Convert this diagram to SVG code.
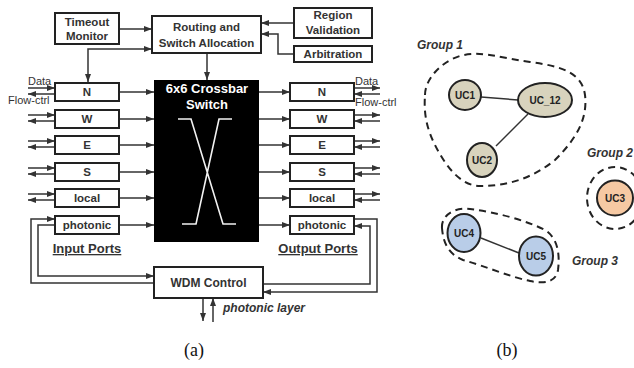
<svg xmlns="http://www.w3.org/2000/svg" width="634" height="368" viewBox="0 0 634 368">
<style>
.box{fill:#fff;stroke:#222;stroke-width:2}
.lbl{font-family:"Liberation Sans",Arial,sans-serif;font-weight:bold;font-size:11.5px;fill:#333;text-anchor:middle}
.sm{font-family:"Liberation Sans",Arial,sans-serif;font-size:11px;fill:#333}
.ln{fill:none;stroke:#333;stroke-width:1.5}
.grp{fill:none;stroke:#222;stroke-width:2;stroke-dasharray:7 5}
.uc{stroke:#222;stroke-width:2}
.uct{font-family:"Liberation Sans",Arial,sans-serif;font-weight:bold;font-size:10px;fill:#222;text-anchor:middle}
.gt{font-family:"Liberation Sans",Arial,sans-serif;font-weight:bold;font-style:italic;font-size:12px;fill:#333}
.cap{font-family:"Liberation Serif","Times New Roman",serif;font-size:18px;fill:#111;text-anchor:middle}
</style>
<defs>
<marker id="a" markerUnits="userSpaceOnUse" markerWidth="8" markerHeight="6" refX="8" refY="3" orient="auto-start-reverse"><path d="M0,0 L8,3 L0,6 z" fill="#333"/></marker>
</defs>
<g id="connectors">
<path class="ln" d="M119,29 H152" marker-end="url(#a)"/>
<path class="ln" d="M88,82 V49 H152" marker-start="url(#a)" marker-end="url(#a)"/>
<path class="ln" d="M294,23 H261" marker-end="url(#a)"/>
<path class="ln" d="M294,54 H278 V34 H261" marker-end="url(#a)"/>
<path class="ln" d="M207,53 V80" marker-end="url(#a)"/>
<path class="ln" d="M119,92 H154" marker-end="url(#a)"/>
<path class="ln" d="M119,119 H154" marker-end="url(#a)"/>
<path class="ln" d="M119,145 H154" marker-end="url(#a)"/>
<path class="ln" d="M119,172 H154" marker-end="url(#a)"/>
<path class="ln" d="M119,198 H154" marker-end="url(#a)"/>
<path class="ln" d="M119,225 H154" marker-end="url(#a)"/>
<path class="ln" d="M259,92 H290" marker-end="url(#a)"/>
<path class="ln" d="M259,119 H290" marker-end="url(#a)"/>
<path class="ln" d="M259,145 H290" marker-end="url(#a)"/>
<path class="ln" d="M259,172 H290" marker-end="url(#a)"/>
<path class="ln" d="M259,198 H290" marker-end="url(#a)"/>
<path class="ln" d="M259,225 H290" marker-end="url(#a)"/>
<path class="ln" d="M28,88 H55" marker-end="url(#a)"/>
<path class="ln" d="M55,94 H28" marker-end="url(#a)"/>
<path class="ln" d="M28,115 H55" marker-end="url(#a)"/>
<path class="ln" d="M55,121 H28" marker-end="url(#a)"/>
<path class="ln" d="M28,141 H55" marker-end="url(#a)"/>
<path class="ln" d="M55,147 H28" marker-end="url(#a)"/>
<path class="ln" d="M28,168 H55" marker-end="url(#a)"/>
<path class="ln" d="M55,174 H28" marker-end="url(#a)"/>
<path class="ln" d="M28,194 H55" marker-end="url(#a)"/>
<path class="ln" d="M55,200 H28" marker-end="url(#a)"/>
<path class="ln" d="M354,88 H380" marker-end="url(#a)"/>
<path class="ln" d="M380,94 H354" marker-end="url(#a)"/>
<path class="ln" d="M354,115 H380" marker-end="url(#a)"/>
<path class="ln" d="M380,121 H354" marker-end="url(#a)"/>
<path class="ln" d="M354,141 H380" marker-end="url(#a)"/>
<path class="ln" d="M380,147 H354" marker-end="url(#a)"/>
<path class="ln" d="M354,168 H380" marker-end="url(#a)"/>
<path class="ln" d="M380,174 H354" marker-end="url(#a)"/>
<path class="ln" d="M354,194 H380" marker-end="url(#a)"/>
<path class="ln" d="M380,200 H354" marker-end="url(#a)"/>
<path class="ln" d="M154,283 H31 V219 H55" marker-end="url(#a)"/>
<path class="ln" d="M55,225 H38 V276 H154" marker-end="url(#a)"/>
<path class="ln" d="M354,219 H377 V292 H263" marker-end="url(#a)"/>
<path class="ln" d="M263,284 H370 V226 H354" marker-end="url(#a)"/>
<path class="ln" d="M203,298 V321" marker-end="url(#a)"/>
<path class="ln" d="M213,322 V298" marker-end="url(#a)"/>
<path class="ln" d="M481,97 L518,100"/>
<path class="ln" d="M496,146 L528,114"/>
<path class="ln" d="M481,238 L519,253"/>
</g>
<g id="timeout"><rect class="box" x="55" y="13" width="64" height="31"/><text class="lbl" x="87" y="26">Timeout</text><text class="lbl" x="87" y="40">Monitor</text></g>
<g id="routing"><rect class="box" x="152" y="16" width="109" height="37"/><text class="lbl" x="206.5" y="31">Routing and</text><text class="lbl" x="206.5" y="47">Switch Allocation</text></g>
<g id="region"><rect class="box" x="294" y="8" width="78" height="30"/><text class="lbl" x="333" y="19">Region</text><text class="lbl" x="333" y="34">Validation</text></g>
<g id="arbitration"><rect class="box" x="294" y="46" width="78" height="16"/><text class="lbl" x="333" y="58">Arbitration</text></g>
<g id="crossbar"><rect x="154" y="80" width="105" height="162" fill="#000"/>
<text class="lbl" x="207" y="93" style="fill:#fff;font-size:13px">6x6 Crossbar</text>
<text class="lbl" x="207" y="109" style="fill:#fff;font-size:13px">Switch</text>
<path d="M178,119 H191 L223,224 H236 M232,119 H219 L196,224 H182" fill="none" stroke="#f2f2f2" stroke-width="1.6"/></g>
<g id="in-N"><rect class="box" x="55" y="83" width="64" height="18"/><text class="lbl" x="87" y="96">N</text></g>
<g id="in-W"><rect class="box" x="55" y="110" width="64" height="18"/><text class="lbl" x="87" y="123">W</text></g>
<g id="in-E"><rect class="box" x="55" y="136" width="64" height="18"/><text class="lbl" x="87" y="149">E</text></g>
<g id="in-S"><rect class="box" x="55" y="163" width="64" height="18"/><text class="lbl" x="87" y="176">S</text></g>
<g id="in-local"><rect class="box" x="55" y="189" width="64" height="18"/><text class="lbl" x="87" y="202">local</text></g>
<g id="in-photonic"><rect class="box" x="55" y="216" width="64" height="18"/><text class="lbl" x="87" y="229">photonic</text></g>
<g id="out-N"><rect class="box" x="290" y="83" width="64" height="18"/><text class="lbl" x="322" y="96">N</text></g>
<g id="out-W"><rect class="box" x="290" y="110" width="64" height="18"/><text class="lbl" x="322" y="123">W</text></g>
<g id="out-E"><rect class="box" x="290" y="136" width="64" height="18"/><text class="lbl" x="322" y="149">E</text></g>
<g id="out-S"><rect class="box" x="290" y="163" width="64" height="18"/><text class="lbl" x="322" y="176">S</text></g>
<g id="out-local"><rect class="box" x="290" y="189" width="64" height="18"/><text class="lbl" x="322" y="202">local</text></g>
<g id="out-photonic"><rect class="box" x="290" y="216" width="64" height="18"/><text class="lbl" x="322" y="229">photonic</text></g>
<g id="wdm"><rect class="box" x="154" y="267" width="109" height="31"/><text class="lbl" x="208.5" y="287" style="font-size:12px">WDM Control</text></g>
<g id="labels">
<text class="sm" x="28" y="85">Data</text>
<text class="sm" x="8" y="104">Flow-ctrl</text>
<text class="sm" x="355" y="85">Data</text>
<text class="sm" x="355" y="106">Flow-ctrl</text>
<text class="lbl" x="87" y="253" style="font-size:13px;text-decoration:underline">Input Ports</text>
<text class="lbl" x="318" y="253" style="font-size:13px;text-decoration:underline">Output Ports</text>
<text class="lbl" x="223" y="312" style="font-size:12px;font-style:italic;text-anchor:start">photonic layer</text>
<text class="cap" x="194" y="356">(a)</text>
<text class="cap" x="507" y="356">(b)</text>
</g>
<g id="group1">
<path class="grp" d="M425,95 C425,80 440,62 460,56 C480,50 500,58 530,62 C560,66 582,72 585,95 C588,120 575,140 555,160 C530,180 505,186 480,186 C460,186 445,165 435,145 C425,125 424,110 425,95 Z"/>
<text class="gt" x="417" y="49">Group 1</text>
</g>
<g id="uc1"><ellipse class="uc" cx="465" cy="95" rx="16" ry="15" fill="#d8d3bd"/><text class="uct" x="465" y="99">UC1</text></g>
<g id="uc12"><ellipse class="uc" cx="545" cy="100" rx="27" ry="17" fill="#d8d3bd"/><text class="uct" x="545" y="104">UC_12</text></g>
<g id="uc2"><ellipse class="uc" cx="482" cy="160" rx="15" ry="17" fill="#d8d3bd"/><text class="uct" x="482" y="164">UC2</text></g>
<g id="group2">
<ellipse class="grp" cx="615" cy="198" rx="28" ry="31"/>
<text class="gt" x="633" y="157" style="text-anchor:end">Group 2</text>
</g>
<g id="uc3"><ellipse class="uc" cx="615" cy="198" rx="18" ry="17.5" fill="#f6c9a3"/><text class="uct" x="615" y="202">UC3</text></g>
<g id="group3">
<path class="grp" d="M442,228 C441,215 455,207 470,209 C495,212 525,220 545,230 C558,238 560,255 558,270 C556,282 545,284 530,281 C510,277 485,266 463,260 C448,254 443,242 442,228 Z"/>
<text class="gt" x="572" y="265">Group 3</text>
</g>
<g id="uc4"><ellipse class="uc" cx="464" cy="233" rx="16.5" ry="19" fill="#b9cde8"/><text class="uct" x="464" y="237">UC4</text></g>
<g id="uc5"><ellipse class="uc" cx="536" cy="256" rx="17" ry="19.5" fill="#b9cde8"/><text class="uct" x="536" y="260">UC5</text></g>
</svg>
